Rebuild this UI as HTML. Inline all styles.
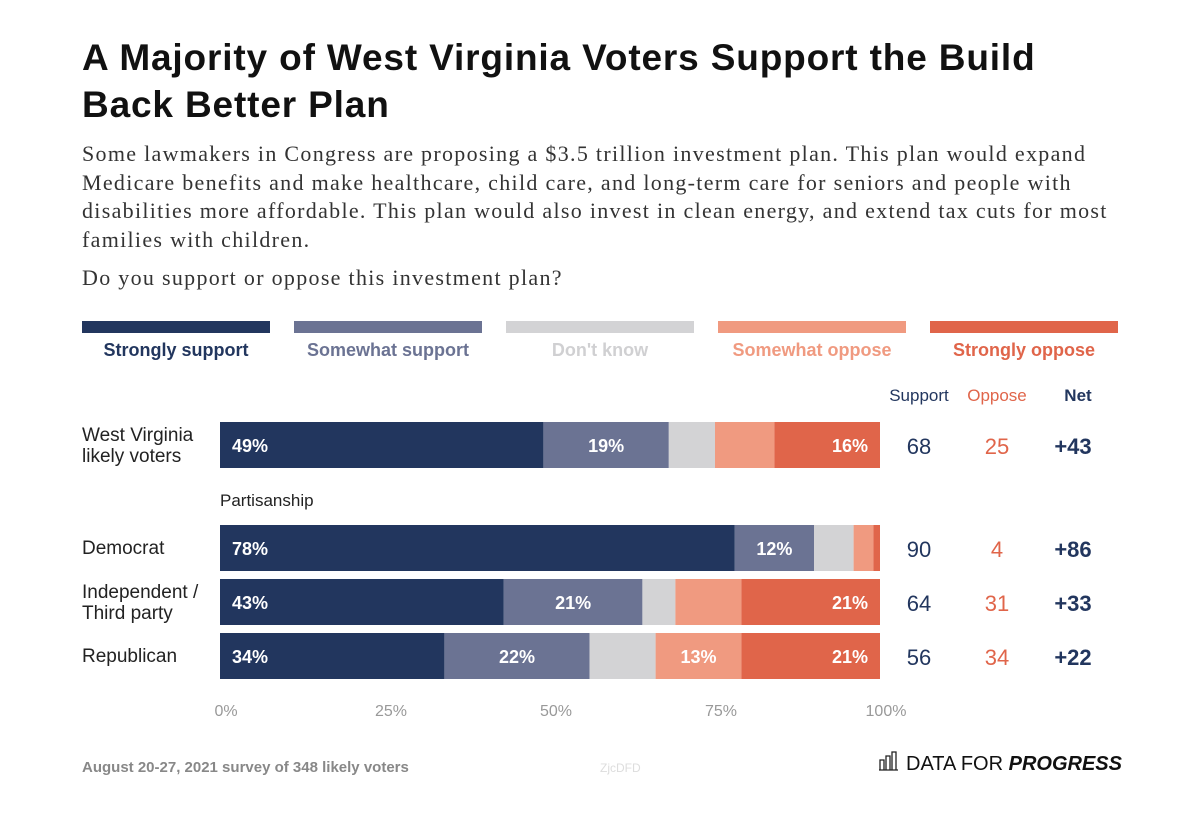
<!DOCTYPE html>
<html><head><meta charset="utf-8"><style>
body{margin:0;background:#fff;width:1200px;height:816px;overflow:hidden;font-family:"Liberation Sans",sans-serif}
.t{position:absolute;left:82px;top:34px;font-size:37px;font-weight:bold;line-height:47px;color:#111;letter-spacing:0.85px;white-space:nowrap}
.s{position:absolute;left:82px;top:140px;width:1100px;font-family:"Liberation Serif",serif;font-size:22px;line-height:28.6px;color:#333;letter-spacing:1.3px;white-space:nowrap}
.q{position:absolute;left:82px;top:265px;font-family:"Liberation Serif",serif;font-size:22px;color:#333;letter-spacing:1.3px}
</style></head><body>
<div class="t">A Majority of West Virginia Voters Support the Build<br>Back Better Plan</div>
<div class="s">Some lawmakers in Congress are proposing a $3.5 trillion investment plan. This plan would expand<br>Medicare benefits and make healthcare, child care, and long-term care for seniors and people with<br>disabilities more affordable. This plan would also invest in clean energy, and extend tax cuts for most<br>families with children.</div>
<div class="q">Do you support or oppose this investment plan?</div>
<svg id="c" width="1200" height="816" style="position:absolute;left:0;top:0"></svg>
<script>
const categories=["West Virginia|likely voters","Democrat","Independent /|Third party","Republican"];
const strongSupport=[49,78,43,34];
const somewhatSupport=[19,12,21,22];
const dontKnow=[7,6,5,10];
const somewhatOppose=[9,3,10,13];
const strongOppose=[16,1,21,21];
const supportTotal=[68,90,64,56];
const opposeTotal=[25,4,31,34];
const netTotal=["+43","+86","+33","+22"];
const seriesNames=["Strongly support","Somewhat support","Don't know","Somewhat oppose","Strongly oppose"];
const ticks=[0,25,50,75,100];
const colors=["#22365e","#6b7393","#d3d3d5","#f09a80","#e0654a"];
const textCols=["#22365e","#6b7393","#d0d0d2","#f09a80","#e0654a"];
const svg=document.getElementById('c');const NS="http://www.w3.org/2000/svg";
function el(t,a,p){const e=document.createElementNS(NS,t);for(const k in a)e.setAttribute(k,a[k]);(p||svg).appendChild(e);return e;}
const x=v=>220+v*6.6;
const rowY=[422,525,579,633];const H=46;
seriesNames.forEach((n,i)=>{
 const lx=82+i*212;
 const r=el('rect',{x:lx,y:321,width:188,height:12,fill:colors[i]});
 
 
 const t=el('text',{x:lx+94,y:356,'text-anchor':'middle','font-size':18,'font-weight':'bold',fill:textCols[i]});
 t.textContent=n;
 
 
});
[["Support",919,"#22365e","normal"],["Oppose",997,"#e0654a","normal"],["Net",1078,"#22365e","bold"]].forEach(h=>{
 const t=el('text',{x:h[1],y:401,'text-anchor':'middle','font-size':17,fill:h[2],'font-weight':h[3]});
 t.textContent=h[0];
 
 
});
const pt=el('text',{x:220,y:506,'font-size':17,fill:'#222'});pt.textContent="Partisanship";


const series=[strongSupport,somewhatSupport,dontKnow,somewhatOppose,strongOppose];
categories.forEach((c,r)=>{
 const y=rowY[r];
 const lines=c.split('|');
 lines.forEach((l,j)=>{
  const t=el('text',{x:82,y:y+23+6-(lines.length-1)*10+j*21,'font-size':19,fill:'#222'});
  t.textContent=l;
  
  
 });
 let acc=0;
 series.forEach((s,i)=>{
  const v=s[r];
  const b=el('rect',{x:x(acc),y:y,width:x(acc+v)-x(acc),height:H,fill:colors[i]});
  
  
  if(v>=11&&i!==2){
   let tx,anc;
   if(i===0){tx=x(acc)+12;anc='start';}else if(i===4){tx=x(acc+v)-12;anc='end';}else{tx=(x(acc)+x(acc+v))/2;anc='middle';}
   const t=el('text',{x:tx,y:y+30,'text-anchor':anc,'font-size':18,'font-weight':'bold',fill:'#fff'});
   t.textContent=v+"%";
   
   
  }
  acc+=v;
 });
 [[supportTotal[r],919,"#22365e","normal"],[opposeTotal[r],997,"#e0654a","normal"],[netTotal[r],1073,"#22365e","bold"]].forEach(h=>{
  const t=el('text',{x:h[1],y:y+32,'text-anchor':'middle','font-size':22,fill:h[2],'font-weight':h[3]});
  t.textContent=h[0];
  
  
 });
});
ticks.forEach(v=>{
 const t=el('text',{x:x(v)+6,y:716,'text-anchor':'middle','font-size':16,fill:'#999'});
 t.textContent=v+"%";
 
 
});
const f=el('text',{x:82,y:772,'font-size':15,'font-weight':'bold',fill:'#888'});f.textContent="August 20-27, 2021 survey of 348 likely voters";


const w=el('text',{x:600,y:772,'font-size':12,fill:'#ddd'});w.textContent="ZjcDFD";


const g=el('g',{stroke:'#222','stroke-width':1.3,fill:'none'});


el('path',{d:'M879 770 H898 M880 770 V760 H884 V770 M886 770 V756 H890 V770 M892 770 V752 H896 V770'},g);
const lg=el('text',{x:906,y:770,'font-size':20,fill:'#111'});


lg.innerHTML='DATA FOR <tspan font-weight="bold" font-style="italic">PROGRESS</tspan>';
</script>
</body></html>
